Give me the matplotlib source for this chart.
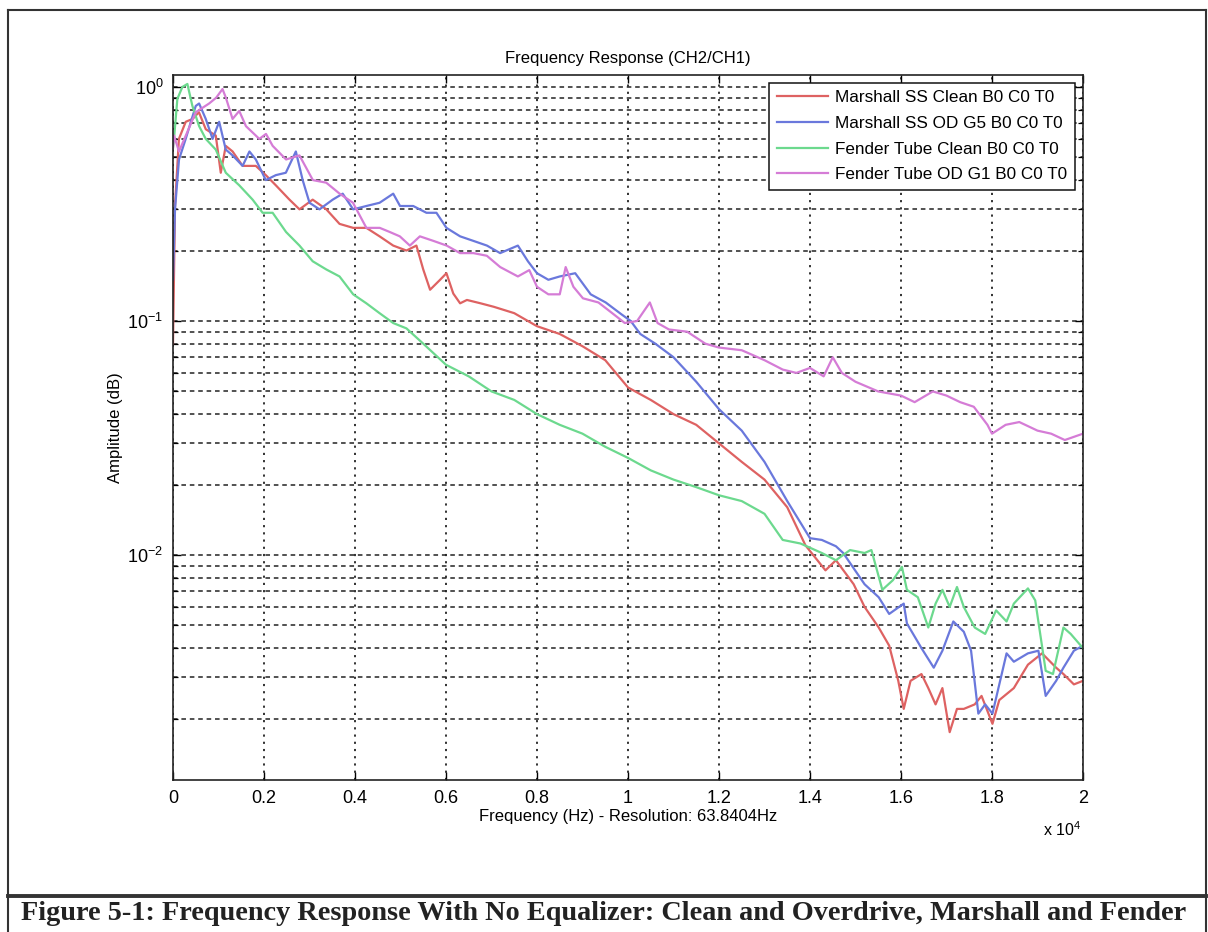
import matplotlib
matplotlib.use("Agg")
import matplotlib.pyplot as plt
from matplotlib.lines import Line2D
from matplotlib.ticker import FixedLocator, FixedFormatter, LogLocator

plt.rcParams['font.family'] = ['Liberation Sans', 'DejaVu Sans']
plt.rcParams['mathtext.fontset'] = 'custom'
plt.rcParams['mathtext.rm'] = 'Liberation Sans'
plt.rcParams['mathtext.it'] = 'Liberation Sans:italic'
plt.rcParams['mathtext.bf'] = 'Liberation Sans:bold'
plt.rcParams['axes.unicode_minus'] = False

# ---------------- data ----------------
labels = ["Marshall SS Clean B0 C0 T0", "Marshall SS OD G5 B0 C0 T0",
          "Fender Tube Clean B0 C0 T0", "Fender Tube OD G1 B0 C0 T0"]
colors = ["#de6262", "#6a78dc", "#6cd98e", "#d57cd6"]

red_f = [0, 44, 130, 280, 430, 570, 720, 940, 1050, 1160, 1310, 1530, 1820, 2040, 2260, 2560, 2780, 3070, 3370, 3660,
         3960, 4250, 4540, 4840, 5130, 5350, 5500, 5650, 5870, 6010, 6160, 6310, 6460, 6760, 7050, 7500, 8000, 8500, 9000, 9500,
         10000, 10500, 11000, 11500, 12000, 12500, 13000, 13500, 13900, 14340, 14570, 14960, 15200, 15510, 15740, 15940, 16060, 16210, 16450, 16600,
         16760, 16910, 17070, 17230, 17380, 17620, 17770, 18010, 18160, 18480, 18790, 19100, 19410, 19570, 19800, 20000]
red_a = [0.08, 0.31, 0.60, 0.71, 0.73, 0.78, 0.66, 0.62, 0.43, 0.56, 0.53, 0.46, 0.46, 0.42, 0.38, 0.33, 0.30, 0.33, 0.30, 0.26,
         0.25, 0.25, 0.23, 0.21, 0.20, 0.21, 0.166, 0.136, 0.15, 0.16, 0.131, 0.119, 0.123, 0.119, 0.115, 0.108, 0.095, 0.088, 0.078, 0.068,
         0.052, 0.046, 0.040, 0.036, 0.030, 0.025, 0.021, 0.016, 0.011, 0.0086, 0.0095, 0.0075, 0.006, 0.0049, 0.0041, 0.0029, 0.0022, 0.0029, 0.0031, 0.0027,
         0.0023, 0.0027, 0.00175, 0.0022, 0.0022, 0.0023, 0.0025, 0.0019, 0.0024, 0.0027, 0.0034, 0.0038, 0.0033, 0.0031, 0.0028, 0.0029]

blue_f = [0, 44, 132, 279, 500, 574, 720, 870, 1015, 1160, 1310, 1530, 1680, 1820, 2040, 2260, 2480, 2700, 2850, 3000,
          3220, 3510, 3730, 3960, 4250, 4540, 4840, 4990, 5280, 5570, 5790, 6010, 6310, 6600, 6900, 7190, 7580, 7800, 8000, 8250,
          8500, 8840, 9180, 9510, 9850, 10060, 10270, 10600, 11000, 11500, 12000, 12500, 13000, 13500, 14000, 14260, 14570, 14730, 15200, 15510,
          15740, 16060, 16130, 16450, 16720, 16910, 17150, 17380, 17540, 17700, 17850, 18010, 18320, 18480, 18790, 19020, 19180, 19410, 19570, 19800,
          20000]
blue_a = [0.15, 0.30, 0.49, 0.60, 0.83, 0.85, 0.73, 0.60, 0.71, 0.54, 0.51, 0.46, 0.53, 0.49, 0.40, 0.42, 0.43, 0.53, 0.40, 0.32,
          0.30, 0.33, 0.35, 0.30, 0.31, 0.32, 0.35, 0.31, 0.31, 0.29, 0.29, 0.25, 0.23, 0.22, 0.21, 0.195, 0.21, 0.18, 0.16, 0.15,
          0.155, 0.16, 0.13, 0.12, 0.107, 0.10, 0.088, 0.08, 0.07, 0.055, 0.042, 0.034, 0.025, 0.017, 0.0118, 0.0116, 0.0109, 0.0102, 0.0075, 0.0066,
          0.0056, 0.0062, 0.0051, 0.0040, 0.0033, 0.0039, 0.0052, 0.0047, 0.0039, 0.0021, 0.0023, 0.0021, 0.0038, 0.0035, 0.0038, 0.0039, 0.0025, 0.0029, 0.0033, 0.0039,
          0.0041]

green_f = [0, 22, 96, 206, 316, 426, 574, 720, 940, 1160, 1456, 1750, 1970, 2190, 2485, 2780, 3070, 3370, 3660, 3960,
           4250, 4540, 4840, 5130, 5500, 6000, 6500, 7000, 7500, 8000, 8500, 9000, 9500, 10000, 10500, 11000, 11500, 12000, 12500, 13000,
           13400, 13790, 14260, 14570, 14880, 15200, 15350, 15590, 15820, 16020, 16130, 16370, 16600, 16760, 16910, 17070, 17230, 17380, 17620, 17850,
           18090, 18320, 18480, 18790, 18950, 19180, 19340, 19570, 19730, 20000]
green_a = [0.55, 0.6, 0.89, 1.0, 1.03, 0.83, 0.68, 0.60, 0.54, 0.43, 0.38, 0.33, 0.29, 0.29, 0.24, 0.21, 0.18, 0.166, 0.155, 0.13,
           0.119, 0.108, 0.098, 0.093, 0.08, 0.065, 0.058, 0.05, 0.046, 0.04, 0.036, 0.033, 0.029, 0.026, 0.023, 0.021, 0.0195, 0.018, 0.017, 0.015,
           0.0116, 0.0112, 0.0102, 0.0095, 0.0105, 0.0102, 0.0105, 0.0071, 0.0078, 0.0089, 0.0071, 0.0066, 0.0049, 0.0062, 0.0071, 0.006, 0.0073, 0.006, 0.0049, 0.0046,
           0.0058, 0.0052, 0.0062, 0.0072, 0.0064, 0.0032, 0.0031, 0.0049, 0.0046, 0.0040]

mag_f = [0, 22, 132, 500, 794, 950, 1088, 1162, 1309, 1456, 1603, 1897, 2044, 2191, 2485, 2779, 3074, 3368, 3662, 3956,
         4250, 4544, 4765, 4985, 5206, 5426, 5721, 6015, 6309, 6603, 6897, 7191, 7580, 7830, 8000, 8250, 8500, 8630, 8800, 9010,
         9350, 9680, 9930, 10200, 10480, 10650, 10900, 11300, 11700, 12000, 12500, 13000, 13400, 13700, 14000, 14300, 14500, 14700, 15000, 15500,
         16000, 16300, 16700, 17000, 17300, 17600, 17900, 18000, 18300, 18600, 19000, 19300, 19600, 20000]
mag_a = [0.55, 0.62, 0.53, 0.78, 0.85, 0.9, 0.98, 0.9, 0.73, 0.79, 0.68, 0.60, 0.63, 0.56, 0.49, 0.51, 0.40, 0.39, 0.35, 0.32,
         0.25, 0.25, 0.24, 0.23, 0.21, 0.23, 0.22, 0.21, 0.195, 0.195, 0.19, 0.17, 0.155, 0.165, 0.14, 0.13, 0.13, 0.17, 0.14, 0.125,
         0.12, 0.107, 0.098, 0.10, 0.12, 0.098, 0.092, 0.09, 0.08, 0.077, 0.075, 0.068, 0.062, 0.06, 0.063, 0.058, 0.07, 0.06, 0.055, 0.05,
         0.048, 0.045, 0.05, 0.048, 0.045, 0.043, 0.036, 0.033, 0.036, 0.037, 0.034, 0.033, 0.031, 0.033]

x_ticks = [0, 2000, 4000, 6000, 8000, 10000, 12000, 14000, 16000, 18000, 20000]
x_ticklabels = ["0", "0.2", "0.4", "0.6", "0.8", "1", "1.2", "1.4", "1.6", "1.8", "2"]

title = "Frequency Response (CH2/CH1)"
xlabel = "Frequency (Hz) - Resolution: 63.8404Hz"
ylabel = "Amplitude (dB)"
caption = "Figure 5-1: Frequency Response With No Equalizer: Clean and Overdrive, Marshall and Fender"

# ---------------- figure ----------------
W, H = 1208, 932
fig = plt.figure(figsize=(W / 100, H / 100), dpi=100)
ax = fig.add_axes([173 / W, 1 - 780 / H, (1083 - 173) / W, (780 - 75) / H])

series = [(red_f, red_a), (blue_f, blue_a), (green_f, green_a), (mag_f, mag_a)]
for (f, a), lab, c in zip(series, labels, colors):
    ax.plot(f, a, color=c, lw=1.6, label=lab)

ax.set_yscale('log')
ax.set_xlim(0, 20000)
ax.set_ylim(1.093e-3, 1.125)
ax.xaxis.set_major_locator(FixedLocator(x_ticks))
ax.xaxis.set_major_formatter(FixedFormatter(x_ticklabels))
ax.yaxis.set_major_locator(LogLocator(base=10, numticks=10))
ax.yaxis.set_minor_locator(LogLocator(base=10, subs=range(2, 10), numticks=20))

ax.grid(True, axis='y', which='both', color='#222222', lw=1.1, linestyle=(0, (3, 2.5)))
ax.grid(True, axis='x', which='major', color='#222222', lw=1.3, linestyle=(0, (1.2, 2.8)))

ax.tick_params(axis='both', which='both', direction='in', top=True, right=True, labelsize=13, pad=7)
ax.tick_params(axis='both', which='major', length=6, width=1)
ax.tick_params(axis='y', which='minor', length=3.5, width=0.9)
for s in ax.spines.values():
    s.set_linewidth(1.2)
    s.set_color('#222222')

ax.set_title(title, fontsize=12, pad=9)
ax.set_xlabel(xlabel, fontsize=12, labelpad=2)
ax.set_ylabel(ylabel, fontsize=12, labelpad=3)
fig.text(1043 / W, 1 - 830 / H, r"x 10$^{4}$", fontsize=11.5, ha='left', va='center')

leg = ax.legend(loc='upper right', bbox_to_anchor=(0.991, 0.989), borderaxespad=0,
                fontsize=12.3, frameon=True, fancybox=False, framealpha=1,
                edgecolor='#111111', handlelength=3.0, handletextpad=0.4,
                labelspacing=0.62, borderpad=0.45)
leg.get_frame().set_linewidth(1.1)

# outer frame and caption row
def fl(x0, y0, x1, y1, lw):
    fig.add_artist(Line2D([x0 / W, x1 / W], [1 - y0 / H, 1 - y1 / H], color='#333333', lw=lw))

fl(8, 10, 1206, 10, 1.5)
fl(8, 10, 8, 932, 1.5)
fl(1206, 10, 1206, 932, 1.5)
fl(8, 896, 1206, 896, 2.8)
fig.text(604 / W, 1 - 914 / H, caption, fontsize=20.3, fontweight='bold',
         family=['Liberation Serif', 'DejaVu Serif'], ha='center', va='center', color='#222222')

fig.savefig("out.png", dpi=100)
